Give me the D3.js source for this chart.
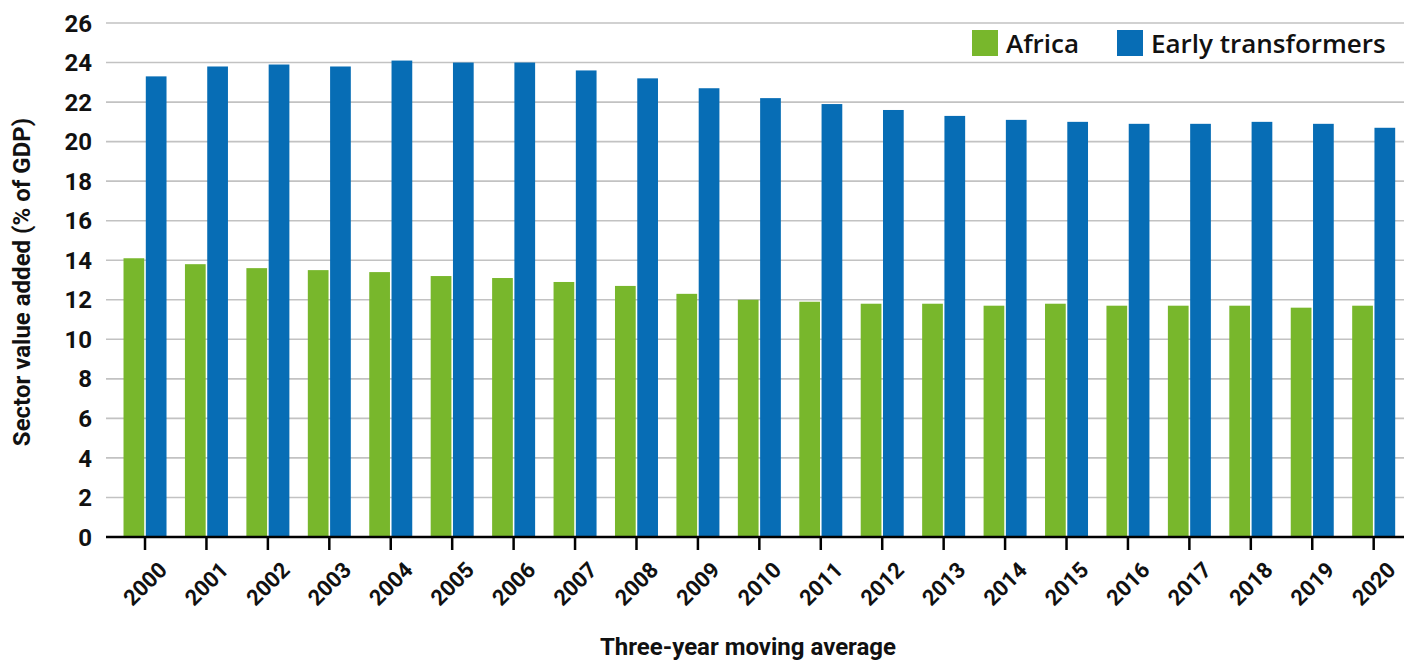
<!DOCTYPE html>
<html>
<head>
<meta charset="utf-8">
<script src="https://cdnjs.cloudflare.com/ajax/libs/d3/7.8.5/d3.min.js"></script>
<style>
  body { margin: 0; background: #fff; }
  svg text { fill: #111; }
  .cond { font-family: Roboto, "Liberation Sans", sans-serif; font-weight: bold; }
</style>
</head>
<body>
<div id="chart"></div>
<script>
var years = ['2000','2001','2002','2003','2004','2005','2006','2007','2008','2009','2010',
             '2011','2012','2013','2014','2015','2016','2017','2018','2019','2020'];
var africa = [14.1,13.8,13.6,13.5,13.4,13.2,13.1,12.9,12.7,12.3,12.0,11.9,11.8,11.8,11.7,11.8,11.7,11.7,11.7,11.6,11.7];
var earlyTransformers = [23.3,23.8,23.9,23.8,24.1,24.0,24.0,23.6,23.2,22.7,22.2,21.9,21.6,21.3,21.1,21.0,20.9,20.9,21.0,20.9,20.7];
var seriesNames = ['Africa', 'Early transformers'];
var yTicks = [0,2,4,6,8,10,12,14,16,18,20,22,24,26];

var width = 1412, height = 660;
var colors = { 'Africa': '#78b72c', 'Early transformers': '#076db5' };

var svg = d3.select('#chart').append('svg')
    .attr('width', width)
    .attr('height', height);

var plotLeft = 106, plotRight = 1404, plotTop = 23, plotBottom = 537;

var x = d3.scaleBand()
    .domain(years)
    .range([114.3, 1404.4])
    .padding(0);

var x1 = d3.scaleBand()
    .domain(seriesNames)
    .range([0, 43])
    .paddingInner(0.07);

var y = d3.scaleLinear()
    .domain([0, 26])
    .range([plotBottom, plotTop]);

// gridlines
svg.append('g')
    .selectAll('line')
    .data(yTicks.filter(function(d){ return d > 0; }))
    .enter()
    .append('line')
    .attr('x1', plotLeft)
    .attr('x2', plotRight)
    .attr('y1', function(d){ return y(d); })
    .attr('y2', function(d){ return y(d); })
    .attr('stroke', '#c2c2c2')
    .attr('stroke-width', 1.6);

// y tick labels
svg.append('g')
    .selectAll('text')
    .data(yTicks)
    .enter()
    .append('text')
    .attr('class', 'cond')
    .attr('x', 92)
    .attr('y', function(d){ return y(d); })
    .attr('dy', '0.36em')
    .attr('text-anchor', 'end')
    .style('font-size', '24px')
    .text(function(d){ return d; });

// bars
var rows = years.map(function(yr, i){
    return { year: yr, values: [
        { name: 'Africa', value: africa[i] },
        { name: 'Early transformers', value: earlyTransformers[i] }
    ]};
});

var groups = svg.append('g')
    .selectAll('g')
    .data(rows)
    .enter()
    .append('g')
    .attr('transform', function(d){
        return 'translate(' + (x(d.year) + x.bandwidth()/2 - 21.5) + ',0)';
    });

groups.selectAll('rect')
    .data(function(d){ return d.values; })
    .enter()
    .append('rect')
    .attr('x', function(d){ return x1(d.name); })
    .attr('width', x1.bandwidth())
    .attr('y', function(d){ return y(d.value); })
    .attr('height', function(d){ return y(0) - y(d.value); })
    .attr('fill', function(d){ return colors[d.name]; });

// x axis
var xAxis = d3.axisBottom(x).tickSize(13).tickSizeOuter(0);
var gx = svg.append('g')
    .attr('transform', 'translate(0,' + plotBottom + ')')
    .call(xAxis);
gx.select('.domain').remove();
gx.selectAll('.tick line').attr('stroke', '#000').attr('stroke-width', 2.5);
gx.selectAll('.tick text')
    .attr('class', 'cond')
    .attr('y', 0)
    .attr('x', 0)
    .attr('dy', 0)
    .attr('transform', 'translate(12,23) rotate(-45)')
    .attr('text-anchor', 'end')
    .attr('dominant-baseline', 'hanging')
    .style('font-size', '22px')
    .style('fill', '#111');

svg.append('line')
    .attr('x1', plotLeft)
    .attr('x2', plotRight)
    .attr('y1', plotBottom)
    .attr('y2', plotBottom)
    .attr('stroke', '#000')
    .attr('stroke-width', 2.5);

// axis titles
svg.append('text')
    .attr('class', 'cond')
    .attr('transform', 'translate(30,282) rotate(-90)')
    .attr('text-anchor', 'middle')
    .style('font-size', '24px')
    .text('Sector value added (% of GDP)');

svg.append('text')
    .attr('class', 'cond')
    .attr('x', 748)
    .attr('y', 655)
    .attr('text-anchor', 'middle')
    .style('font-size', '24px')
    .text('Three-year moving average');

// legend
var legendX = [972, 1117];
var legend = svg.append('g')
    .selectAll('g')
    .data(seriesNames)
    .enter()
    .append('g')
    .attr('transform', function(d, i){ return 'translate(' + legendX[i] + ',30)'; });

legend.append('rect')
    .attr('width', 26)
    .attr('height', 26)
    .attr('fill', function(d){ return colors[d]; });

legend.append('text')
    .attr('x', 34)
    .attr('y', 23)
    .style('font-family', '"Open Sans", sans-serif')
    .style('font-weight', 600)
    .style('font-size', '26px')
    .text(function(d){ return d; });
</script>
</body>
</html>
